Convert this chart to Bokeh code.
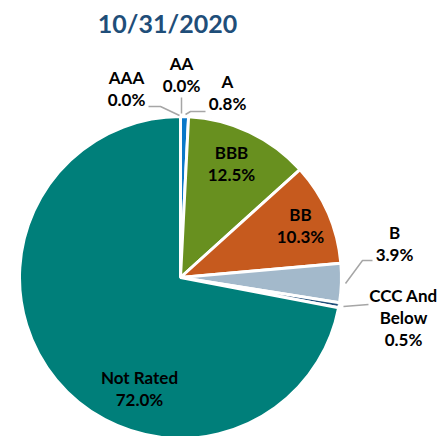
import numpy as np
from bokeh.plotting import figure
from bokeh.models import Range1d, ColumnDataSource
from bokeh.embed import file_html
from bokeh.resources import INLINE
from bokeh.core.properties import value

# ---- data ----
title_text = "10/31/2020"
categories = ["AAA", "AA", "A", "BBB", "BB", "B", "CCC And Below", "Not Rated"]
label_names = [["AAA"], ["AA"], ["A"], ["BBB"], ["BB"], ["B"], ["CCC And", "Below"], ["Not Rated"]]
shares = [0.0, 0.0, 0.8, 12.5, 10.3, 3.9, 0.5, 72.0]

# ---- styles / layout ----
slice_colors = ["#2E75B6", "#5B9BD5", "#0A78C8", "#68901F", "#C65A1E", "#A3B9CB", "#1F4E79", "#007F7A"]
label_x = [126, 181, 227, 231, 300, 394, 403, 139]
label_y0 = [77, 63, 81, 152, 214, 232, 295, 377]
line_gap = 22
leaders_x = [[148, 160, 179], [181, 181], [185, 190, 205], [], [], [345, 362, 372], [343, 368], []]
leaders_y = [[106, 106, 115], [97, 113], [114, 111, 111], [], [], [283, 260, 260], [306, 304], []]

W, H = 439, 436
CX, CY, R = 180, 277, 161
FONT = "Lato"


def Y(sy):
    return H - sy


p = figure(width=W, height=H, x_range=Range1d(0, W), y_range=Range1d(0, H),
           output_backend="svg", toolbar_location=None, min_border=0,
           x_axis_location=None, y_axis_location=None)
p.grid.visible = False
p.outline_line_color = None
p.background_fill_color = "white"

vals = np.array(shares)
cum = np.concatenate([[0], np.cumsum(vals)])
start = np.pi / 2 - 2 * np.pi * cum[:-1] / 100.0
end = np.pi / 2 - 2 * np.pi * cum[1:] / 100.0
keep = vals > 0
src = ColumnDataSource(dict(
    start=start[keep], end=end[keep],
    color=[c for c, k in zip(slice_colors, keep) if k],
    x=[CX] * int(keep.sum()), y=[Y(CY)] * int(keep.sum()),
))
p.wedge(x="x", y="y", radius=R, start_angle="start", end_angle="end", direction="clock",
        fill_color="color", line_color="white", line_width=3, source=src)

# leader lines
for lx, ly in zip(leaders_x, leaders_y):
    if lx:
        p.line(lx, [Y(v) for v in ly], line_color="#A6A6A6", line_width=1.5)

# labels
tx, ty, tt = [], [], []
for names, v, x0, y0 in zip(label_names, shares, label_x, label_y0):
    lines = names + [f"{v:.1f}%"]
    for i, s in enumerate(lines):
        tx.append(x0)
        ty.append(Y(y0 + i * line_gap))
        tt.append(s)
p.text(x=tx, y=ty, text=tt, text_align="center", text_baseline="middle",
       text_font=value(FONT), text_font_style="bold", text_font_size="17px", text_color="black")

# title
p.text(x=[167], y=[Y(22)], text=[title_text], text_align="center", text_baseline="middle",
       text_font=value(FONT), text_font_style="bold", text_font_size="25px", text_color="#1F4E79")

open("out.html", "w").write(file_html(p, INLINE))
